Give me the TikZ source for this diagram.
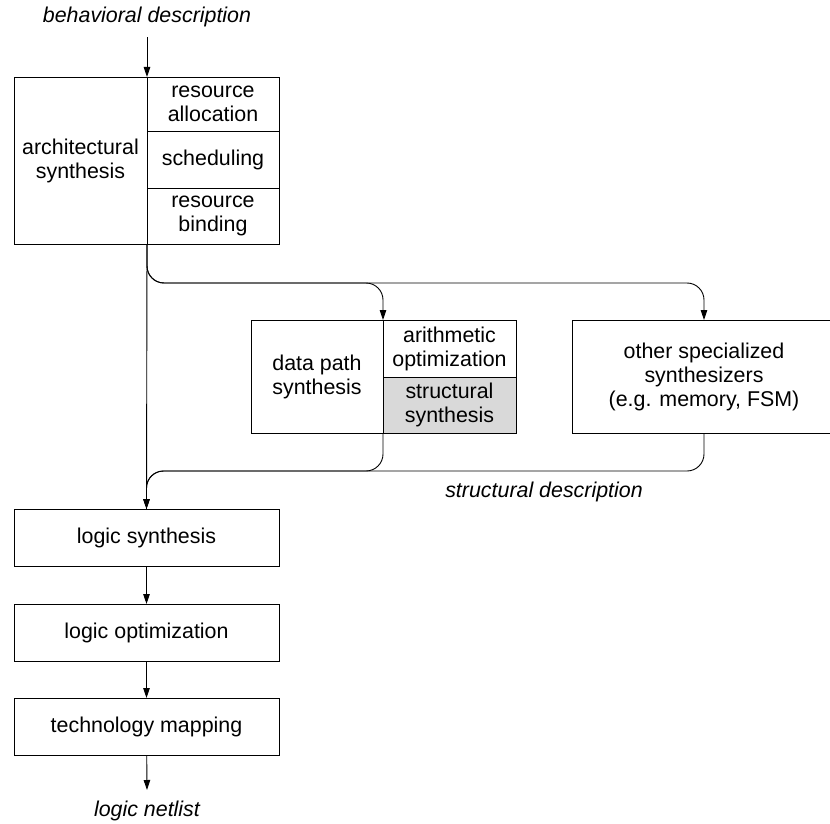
\documentclass[tikz,border=0pt]{standalone}
\usepackage{fontspec}
\setmainfont{Liberation Sans}
\usetikzlibrary{arrows.meta}
\tikzset{
  box/.style={draw, line width=0.9pt, inner sep=0pt, outer sep=0pt, align=center,
    font=\fontsize{21.4}{24}\selectfont},
  lbl/.style={inner sep=0pt, font=\fontsize{21.4}{24}\selectfont\itshape},
  arr/.style={line width=0.9pt, -{Triangle[length=10pt,width=6.5pt]}},
  rc/.style={rounded corners=17pt},
}
\begin{document}
\begin{tikzpicture}[x=1pt,y=-1pt]
\useasboundingbox (0,0) rectangle (830,824);
\clip (0,0) rectangle (830,824);
% top label
\node[lbl] (beh) at (147,17) {behavioral description};
% architectural synthesis
\node[box, minimum width=133pt, minimum height=167pt] (archL) at (80.5,160.5) {architectural\\synthesis};
\node[box, minimum width=132pt, minimum height=54pt] (r1) at (213,104) {resource\\allocation};
\node[box, minimum width=132pt, minimum height=57pt] (r2) at (213,159.5) {scheduling};
\node[box, minimum width=132pt, minimum height=56pt] (r3) at (213,216) {resource\\binding};
% data path synthesis
\node[box, minimum width=132pt, minimum height=113pt] (dpL) at (317,376.5) {data path\\synthesis};
\node[box, minimum width=133pt, minimum height=57pt] (dp1) at (449.5,348.5) {arithmetic\\optimization};
\node[box, fill=black!15, minimum width=133pt, minimum height=56pt] (dp2) at (449.5,405) {structural\\synthesis};
% other
\node[box, minimum width=264pt, minimum height=113pt] (oth) at (704,376.5) {other specialized\\synthesizers\\(e.g. memory, FSM)};
\node[lbl] (sd) at (544,492) {structural description};
% logic
\node[box, minimum width=265pt, minimum height=57pt] (ls) at (146.5,537.5) {logic synthesis};
\node[box, minimum width=265pt, minimum height=57pt] (lo) at (146.5,632.5) {logic optimization};
\node[box, minimum width=265pt, minimum height=57pt] (tm) at (146.5,726.5) {technology mapping};
\node[lbl] (net) at (147,811) {logic netlist};
\coordinate (netin) at (147,790);
% connectors
\draw[arr, shorten <=10pt] (beh.south) -- (r1.north west);
\draw[line width=0.9pt] (archL.south east) -- (ls.north);
\draw[arr, rc] (archL.south east) -- ++(0,39) -| (dp1.north west);
\draw[arr, rc] (archL.south east) -- ++(0,39) -| (oth.north);
\draw[arr, rc] (dp2.south west) -- ++(0,38) -| (ls.north);
\draw[arr, rc] (oth.south) -- ++(0,38) -| (ls.north);
\draw[arr] (ls) -- (lo);
\draw[arr] (lo) -- (tm);
\draw[arr] (tm) -- (netin);
\end{tikzpicture}
\end{document}
